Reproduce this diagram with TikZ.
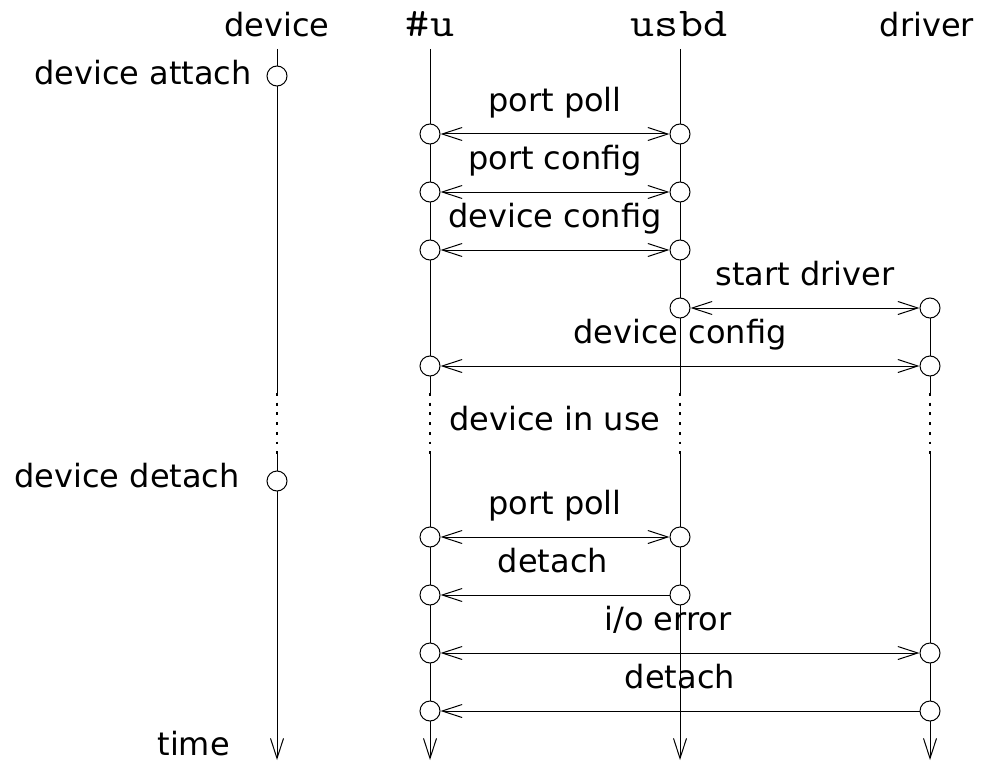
\documentclass[tikz,border=0pt]{standalone}
\usepackage{fontspec}
\setmainfont{DejaVu Sans}
\setmonofont{Latin Modern Mono}[FakeStretch=1.14]
\usepackage{tikz}
\usetikzlibrary{arrows.meta}
\usetikzlibrary{shapes.geometric,positioning}
\pgfdeclarelayer{background}
\pgfsetlayers{background,main}
\tikzset{
    lifeline/.style={
        line width=1pt,
        black
    },
    % dotted part of a lifeline
    idleline/.style={
        line width=2.8pt,
        black,
        dash pattern=on 2.8pt off 6.9pt
    },
    msg/.style={
        line width=1pt,
        black
    },
    evt/.style={circle, draw, line width=1pt, fill=white, inner sep=0pt, minimum size=20pt},
    lbl/.style={inner sep=0pt, font=\fontsize{32}{38}\selectfont},
    ttlbl/.style={inner sep=0pt, font=\fontsize{41}{48}\selectfont\ttfamily}
}

\begin{document}
\begin{tikzpicture}[x=1pt,y=-1pt,>={Straight Barb[length=20pt, width=13pt]}]
    \useasboundingbox (0,0) rectangle (984,762);
    \path 
    (277,49) coordinate (d0) (277,393) coordinate (d1) (277,454) coordinate (d2) (277,760) coordinate (d3)
    (430,49) coordinate (u0) (430,393) coordinate (ua) (430,454) coordinate (ub) (430,760) coordinate (uz)
    (680,49) coordinate (s0) (680,393) coordinate (sa) (680,454) coordinate (sb) (680,760) coordinate (sz)
    (930,393) coordinate (ra) (930,454) coordinate (rb) (930,760) coordinate (rz);

    % headers
    \node[lbl, anchor=base] (hdev) at (277,37) {device};
    \node[ttlbl, anchor=base] (hu) at (430,37) {\#u};
    \node[ttlbl, anchor=base] (husbd) at (679,37) {usbd};
    \node[lbl, anchor=base] (hdrv) at (927,37) {driver};

    % events
    \node[evt] (att) at (277,76) {};
    \node[evt] (det) at (277,481) {};
    \node[evt] (u1) at (430,134) {};
    \node[evt] (u2) at (430,192) {};
    \node[evt] (u3) at (430,250) {};
    \node[evt] (u4) at (430,366) {};
    \node[evt] (u5) at (430,537) {};
    \node[evt] (u6) at (430,595) {};
    \node[evt] (u7) at (430,653) {};
    \node[evt] (u8) at (430,711) {};
    \node[evt] (s1) at (680,134) {};
    \node[evt] (s2) at (680,192) {};
    \node[evt] (s3) at (680,250) {};
    \node[evt] (s4) at (680,308) {};
    \node[evt] (s5) at (680,537) {};
    \node[evt] (s6) at (680,595) {};
    \node[evt] (r1) at (930,308) {};
    \node[evt] (r2) at (930,366) {};
    \node[evt] (r3) at (930,653) {};
    \node[evt] (r4) at (930,711) {};

    % lifelines
    \begin{pgfonlayer}{background}
    \draw[lifeline] (d0) -- (d1);
    \draw[idleline] (d1) -- (d2);
    \draw[lifeline,->] (d2) -- (d3);
    \draw[lifeline] (u0) -- (ua);
    \draw[idleline] (ua) -- (ub);
    \draw[lifeline,->] (ub) -- (uz);
    \draw[lifeline] (s0) -- (sa);
    \draw[idleline] (sa) -- (sb);
    \draw[lifeline,->] (sb) -- (sz);
    \draw[lifeline] (r1.center) -- (ra);
    \draw[idleline] (ra) -- (rb);
    \draw[lifeline,->] (rb) -- (rz);
    \end{pgfonlayer}

    % messages
    \draw[msg,<->] (u1) -- (s1);
    \draw[msg,<->] (u2) -- (s2);
    \draw[msg,<->] (u3) -- (s3);
    \draw[msg,<->] (s4) -- (r1);
    \draw[msg,<->] (u4) -- (r2);
    \draw[msg,<->] (u5) -- (s5);
    \draw[msg,<-] (u6) -- (s6);
    \draw[msg,<->] (u7) -- (r3);
    \draw[msg,<-] (u8) -- (r4);

    % labels
    \node[lbl, anchor=base east] (latt) at (252,85) {device attach};
    \node[lbl, anchor=base east] (ldet) at (240,487) {device detach};
    \node[lbl, anchor=base east] (ltime) at (230,755) {time};
    \node[lbl, anchor=base] (m1) at (555,112) {port poll};
    \node[lbl, anchor=base] (m2) at (555,169) {port config};
    \node[lbl, anchor=base] (m3) at (555,227) {device config};
    \node[lbl, anchor=base] (m4) at (805,285) {start driver};
    \node[lbl, anchor=base] (m5) at (680,343) {device config};
    \node[lbl, anchor=base] (use) at (555,430) {device in use};
    \node[lbl, anchor=base] (m6) at (555,514) {port poll};
    \node[lbl, anchor=base] (m7) at (553,572) {detach};
    \node[lbl, anchor=base] (m8) at (668,630) {i/o error};
    \node[lbl, anchor=base] (m9) at (680,688) {detach};
\end{tikzpicture}
\end{document}
